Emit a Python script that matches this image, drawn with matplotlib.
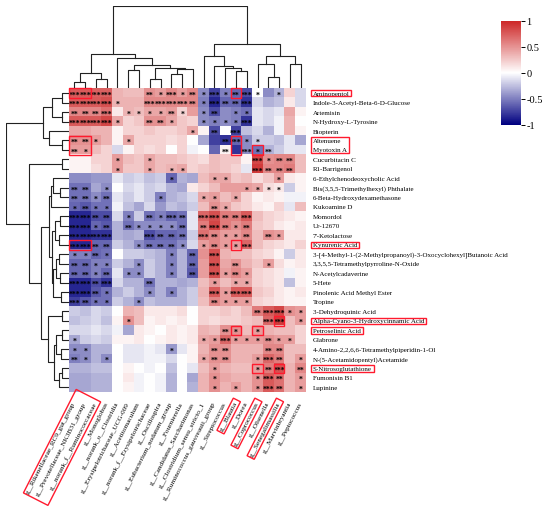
import numpy as np
import matplotlib

matplotlib.use("Agg")
import matplotlib.pyplot as plt  # noqa: E402
from matplotlib.colors import LinearSegmentedColormap  # noqa: E402
from matplotlib.patches import Rectangle  # noqa: E402
from matplotlib.transforms import IdentityTransform  # noqa: E402

plt.rcParams["font.family"] = ["Liberation Serif", "DejaVu Serif"]

metabolites = [
    "Aminopentol", "Indole-3-Acetyl-Beta-6-D-Glucose", "Artemisin", "N-Hydroxy-L-Tyrosine",
    "Biopterin", "Altenuene", "Myotoxin A", "Cucurbitacin C", "R1-Barrigenol",
    "6-Ethylchenodeoxycholic Acid", "Bis(3,5,5-Trimethylhexyl) Phthalate",
    "6-Beta-Hydroxydexamethasone", "Kukoamine D", "Momordol", "Ur-12670", "7'-Ketolactose",
    "Kynurenic Acid", "3-[4-Methyl-1-(2-Methylpropanoyl)-3-Oxocyclohexyl]Butanoic Acid",
    "3,3,5,5-Tetramethylpyrroline-N-Oxide", "N-Acetylcadaverine", "5-Hete",
    "Pinolenic Acid Methyl Ester", "Tropine", "3-Dehydroquinic Acid",
    "Alpha-Cyano-3-Hydroxycinnamic Acid", "Petroselinic Acid", "Glabrone",
    "4-Amino-2,2,6,6-Tetramethylpiperidin-1-Ol", "N-(5-Acetamidopentyl)Acetamide",
    "S-Nitrosoglutathione", "Fumonisin B1", "Lupinine",
]

genera = [
    "g__Rikenellaceae_RC9_gut_group", "g__Prevotellaceae_NK3B31_group",
    "g__norank_f__Ruminococcaceae", "g__Monoglobus", "g__norank_o__Clostridia",
    "g__Erysipelotrichaceae_UCG-009", "g__Acetitomaculum", "g__norank_f__Erysipelotrichaceae",
    "g__Oscillospira", "g__Eubacterium_nodatum_group", "g__Fournierella",
    "g__Candidatus_Saccharimonas", "g__Clostridium_sensu_stricto_1",
    "g__Ruminococcus_gauvreauii_group", "g__Streptococcus", "g__Blautia", "g__Dorea",
    "g__Coprococcus", "g__Olsenella", "g__Senegalimassilia", "g__Marvinbryantia",
    "g__Peptococcus",
]

# spearman r, rows = metabolites, cols = genera
corr = [
    [0.75, 0.75, 0.72, 0.72, 0.35, 0.3, 0.3, 0.5, 0.45, 0.55, 0.45, 0.55, -0.45, -0.75, -0.5, -0.6, -0.7, 0.0, -0.45, -0.3, 0.2, -0.15],
    [0.75, 0.75, 0.75, 0.8, 0.35, 0.35, 0.35, 0.55, 0.55, 0.55, 0.55, 0.55, -0.5, -0.85, -0.6, -0.6, -0.8, -0.15, -0.3, -0.25, 0.1, -0.15],
    [0.55, 0.55, 0.55, 0.65, 0.1, 0.35, 0.3, 0.4, 0.4, 0.45, 0.2, 0.45, -0.45, -0.7, -0.45, -0.5, -0.55, -0.1, -0.15, -0.1, 0.4, 0.05],
    [0.75, 0.75, 0.75, 0.85, 0.4, 0.2, 0.25, 0.5, 0.5, 0.4, 0.25, 0.2, -0.45, -0.5, -0.45, -0.5, -0.8, -0.1, -0.15, -0.05, 0.35, 0.0],
    [0.4, 0.4, 0.35, 0.35, 0.05, 0.2, 0.2, 0.25, 0.2, 0.2, 0.25, 0.4, 0.05, -0.7, 0.0, -0.75, -0.25, -0.15, -0.3, -0.05, 0.35, 0.05],
    [0.5, 0.5, 0.45, 0.35, 0.05, 0.4, 0.2, 0.2, 0.2, 0.15, 0.2, 0.0, -0.35, -0.75, -0.8, -0.6, -0.45, -0.2, -0.2, -0.25, -0.1, -0.35],
    [0.45, 0.45, 0.3, 0.2, -0.15, 0.05, 0.2, 0.15, 0.2, 0.0, 0.2, -0.05, 0.0, -0.6, 0.05, -0.8, -0.45, -0.55, -0.3, -0.2, -0.1, -0.1],
    [0.05, 0.05, 0.2, 0.2, 0.45, 0.3, 0.25, 0.4, 0.3, 0.3, 0.25, 0.2, 0.15, 0.3, 0.25, 0.25, 0.05, 0.85, 0.5, 0.55, 0.55, 0.3],
    [0.05, 0.05, 0.15, 0.2, 0.45, 0.25, 0.25, 0.4, 0.3, 0.35, 0.4, 0.2, 0.25, 0.3, 0.25, 0.2, -0.1, 0.9, 0.55, 0.55, 0.6, 0.3],
    [-0.45, -0.45, -0.4, -0.4, -0.1, -0.2, -0.15, -0.25, -0.2, -0.6, -0.3, -0.35, 0.3, 0.4, 0.4, 0.25, 0.3, 0.15, 0.25, 0.45, 0.1, 0.05],
    [-0.55, -0.55, -0.35, -0.45, 0.0, -0.15, -0.1, -0.2, -0.15, -0.3, -0.35, 0.1, 0.2, 0.3, 0.45, 0.45, 0.45, 0.4, 0.15, 0.1, -0.2, 0.05],
    [-0.55, -0.55, -0.45, -0.55, -0.1, -0.2, -0.1, -0.2, -0.5, -0.3, -0.25, -0.15, 0.4, 0.45, 0.3, 0.4, 0.2, 0.05, 0.1, 0.05, -0.05, -0.05],
    [-0.6, -0.65, -0.55, -0.55, -0.05, -0.25, -0.35, -0.15, -0.4, -0.25, -0.3, -0.2, 0.3, 0.5, 0.4, 0.25, 0.2, 0.1, 0.05, 0.2, -0.1, 0.3],
    [-0.85, -0.85, -0.7, -0.7, -0.15, -0.5, -0.2, -0.55, -0.5, -0.6, -0.55, -0.1, 0.7, 0.8, 0.6, 0.6, 0.75, 0.3, 0.2, 0.15, 0.1, 0.05],
    [-0.85, -0.85, -0.6, -0.65, -0.3, -0.55, -0.45, -0.45, -0.45, -0.45, -0.55, -0.1, 0.6, 0.85, 0.6, 0.5, 0.6, 0.25, 0.2, 0.1, 0.05, 0.1],
    [-0.85, -0.85, -0.8, -0.8, -0.3, -0.35, -0.3, -0.7, -0.6, -0.6, -0.55, -0.2, 0.65, 0.55, 0.45, 0.45, 0.55, 0.3, 0.5, 0.45, 0.1, 0.1],
    [-0.85, -0.85, -0.6, -0.6, -0.2, -0.3, -0.45, -0.55, -0.55, -0.55, -0.45, -0.15, 0.45, 0.55, 0.45, 0.45, 0.7, 0.3, 0.2, 0.15, 0.1, 0.2],
    [-0.5, -0.5, -0.6, -0.55, 0.0, -0.2, -0.2, -0.25, -0.3, -0.5, -0.3, -0.6, 0.5, 0.8, 0.35, 0.3, 0.3, 0.2, 0.15, 0.05, -0.2, 0.1],
    [-0.6, -0.6, -0.5, -0.5, -0.2, -0.3, -0.45, -0.2, -0.3, -0.5, -0.3, -0.6, 0.45, 0.8, 0.4, 0.5, 0.35, 0.25, 0.45, 0.15, 0.05, 0.1],
    [-0.6, -0.6, -0.5, -0.6, -0.1, -0.45, -0.45, -0.2, -0.3, -0.5, -0.3, -0.65, 0.45, 0.8, 0.45, 0.55, 0.45, 0.2, 0.15, 0.1, -0.05, 0.05],
    [-0.85, -0.85, -0.7, -0.8, -0.15, -0.3, -0.3, -0.55, -0.3, -0.3, -0.35, -0.3, 0.3, 0.45, 0.3, 0.4, 0.4, 0.2, 0.15, 0.1, -0.25, 0.05],
    [-0.85, -0.85, -0.65, -0.55, -0.3, -0.2, -0.3, -0.45, -0.3, -0.5, -0.3, -0.2, 0.35, 0.75, 0.45, 0.75, 0.75, 0.25, 0.2, 0.1, 0.05, 0.1],
    [-0.75, -0.65, -0.55, -0.55, -0.2, -0.3, -0.45, -0.25, -0.3, -0.3, -0.3, -0.2, 0.3, 0.55, 0.45, 0.45, 0.45, 0.2, 0.15, 0.1, 0.05, 0.05],
    [-0.2, -0.25, -0.15, -0.2, 0.0, 0.35, 0.3, 0.1, 0.1, 0.1, 0.15, 0.0, 0.2, 0.2, 0.25, 0.2, 0.3, 0.6, 0.75, 0.85, 0.5, 0.45],
    [-0.25, -0.2, -0.15, -0.25, 0.05, 0.5, 0.3, 0.05, 0.1, 0.05, 0.1, 0.0, 0.2, 0.15, 0.2, 0.2, 0.25, 0.3, 0.7, 0.9, 0.3, 0.45],
    [-0.15, -0.15, -0.1, -0.15, -0.05, -0.35, 0.1, 0.05, 0.0, 0.1, 0.05, 0.1, 0.35, 0.3, 0.5, 0.5, 0.3, 0.45, 0.35, 0.3, 0.3, 0.2],
    [-0.35, -0.2, -0.15, -0.2, 0.05, 0.05, 0.1, 0.0, 0.05, 0.1, 0.05, 0.1, 0.4, 0.45, 0.7, 0.45, 0.45, 0.45, 0.5, 0.45, 0.45, 0.2],
    [-0.45, -0.45, -0.3, -0.3, 0.0, -0.1, -0.1, -0.05, -0.1, -0.4, -0.1, 0.05, 0.35, 0.5, 0.5, 0.35, 0.35, 0.35, 0.55, 0.55, 0.3, 0.3],
    [-0.5, -0.45, -0.3, -0.45, 0.0, -0.1, -0.1, -0.05, -0.05, -0.15, 0.0, 0.05, 0.4, 0.5, 0.5, 0.35, 0.35, 0.45, 0.7, 0.6, 0.3, 0.45],
    [-0.3, -0.3, -0.25, -0.25, 0.0, 0.05, 0.0, -0.05, 0.0, -0.25, 0.0, -0.1, 0.3, 0.45, 0.35, 0.3, 0.3, 0.45, 0.6, 0.8, 0.35, 0.55],
    [-0.35, -0.35, -0.3, -0.3, 0.0, 0.1, -0.05, 0.0, -0.05, -0.3, 0.0, -0.35, 0.35, 0.5, 0.4, 0.35, 0.35, 0.5, 0.75, 0.65, 0.35, 0.45],
    [-0.35, -0.35, -0.3, -0.3, 0.0, 0.05, -0.05, 0.0, -0.05, -0.3, 0.0, -0.3, 0.35, 0.5, 0.35, 0.45, 0.35, 0.5, 0.75, 0.65, 0.35, 0.45],
]

# number of significance stars per cell
stars = [
    "3333000213121312310100",
    "3333100333321322300000",
    "2223011112101201100000",
    "3333100221001111300000",
    "0000000000010203000000",
    "2210010000000023110000",
    "2100000000000020312000",
    "0000100100000000031220",
    "0000100101100000032220",
    "0000000001000110000100",
    "2201000000000000111100",
    "2212000010001101000000",
    "1211000000000210000000",
    "3322010213203322300000",
    "3312021111202321200000",
    "3333000322203211202100",
    "3322001222101211300000",
    "1121000001020300000000",
    "2211001001020302001000",
    "2212011001020312100000",
    "3323000200000101100000",
    "3321000101000313300000",
    "3211001000000211100000",
    "0000000000000000023311",
    "0000010000000000003301",
    "0000000000000021010000",
    "1000000000001131112110",
    "1100000001000220002200",
    "2101000000001220013201",
    "0000000000000100012302",
    "0000000000000100013201",
    "0000000000000101013201",
]

# dendrograms: (left, right, merge height in px); new nodes numbered after the leaves
col_merges = [
    (0, 1, 6.0), (2, 3, 9.3), (22, 23, 15.3), (5, 6, 18.7), (7, 8, 9.3), (9, 10, 14.3),
    (27, 11, 19.3), (26, 28, 20.0), (25, 29, 23.7), (4, 30, 30.0), (24, 31, 34.3),
    (15, 16, 17.7), (14, 33, 20.3), (13, 34, 22.7), (12, 35, 32.0), (18, 19, 11.0),
    (17, 37, 24.3), (20, 21, 24.3), (38, 39, 32.0), (36, 40, 44.3), (32, 41, 82.0),
]
row_merges = [
    (0, 1, 6.7), (2, 3, 7.3), (32, 33, 17.7), (5, 6, 6.7), (4, 35, 20.0), (34, 36, 26.7),
    (7, 8, 6.7), (10, 11, 9.0), (9, 39, 16.0), (40, 12, 18.3), (13, 14, 9.0), (15, 16, 10.0),
    (42, 43, 14.0), (17, 18, 10.0), (19, 20, 9.0), (45, 46, 13.3), (21, 22, 8.3),
    (47, 48, 16.0), (44, 49, 17.3), (41, 50, 20.0), (23, 24, 6.7), (25, 26, 7.3),
    (27, 28, 8.3), (53, 54, 12.7), (29, 30, 6.7), (56, 31, 10.0), (55, 57, 15.0),
    (52, 58, 21.0), (51, 59, 28.3), (38, 60, 40.7), (37, 61, 64.0),
]

# red highlight boxes
cell_boxes = [  # (row_from, row_to, col_from, col_to)
    (0, 0, 0, 1), (0, 0, 15, 15), (5, 6, 0, 1), (5, 6, 15, 15), (6, 6, 17, 17),
    (16, 16, 0, 1), (16, 16, 15, 15), (24, 24, 19, 19), (25, 25, 15, 15),
    (25, 25, 17, 17), (29, 29, 17, 17), (29, 29, 19, 19),
]
row_label_boxes = [[0], [5, 6], [16], [24], [25], [29]]
col_label_boxes = [[0, 1, 2], [15], [17], [19]]

W, H = 550, 510
BOX_RED = "#ff1a2e"
fig = plt.figure(figsize=(W / 100, H / 100), dpi=100)


def px_axes(x0, y0, x1, y1):
    return fig.add_axes([x0 / W, 1 - y1 / H, (x1 - x0) / W, (y1 - y0) / H])


def tree_segments(n, merges):
    pos = {i: i + 0.5 for i in range(n)}
    hgt = {i: 0.0 for i in range(n)}
    segs = []
    for k, (a, b, h) in enumerate(merges):
        segs.append(([pos[a], pos[a], pos[b], pos[b]], [hgt[a], h, h, hgt[b]]))
        pos[n + k] = (pos[a] + pos[b]) / 2
        hgt[n + k] = h
    return segs


nr, nc = len(metabolites), len(genera)
HX0, HX1, HY0, HY1 = 69, 306, 89.3, 393

cmap = LinearSegmentedColormap.from_list("nwr", ["#000080", "#ffffff", "#cd2626"], N=256)

ax = px_axes(HX0, HY0, HX1, HY1)
im = ax.imshow(np.array(corr), cmap=cmap, vmin=-1, vmax=1, aspect="auto",
               extent=(0, nc, nr, 0), interpolation="nearest")
ax.set_xlim(0, nc)
ax.set_ylim(nr, 0)
ax.set_axis_off()

for r, row in enumerate(stars):
    for c, ch in enumerate(row):
        if ch != "0":
            ax.text(c + 0.5, r + 0.65, "*" * int(ch), ha="center", va="center",
                    fontsize=5.6, fontweight="bold", color="black")

for r0, r1, c0, c1 in cell_boxes:
    ax.add_patch(Rectangle((c0, r0), c1 - c0 + 1, r1 - r0 + 1, fill=False,
                           edgecolor=BOX_RED, lw=1.0, clip_on=False, zorder=5))

row_txt = [ax.text(nc + 0.62, r + 0.5, name, ha="left", va="center", fontsize=5.0)
           for r, name in enumerate(metabolites)]

ANG = 63
col_txt = []
for c, name in enumerate(genera):
    t = ax.annotate(name, xy=(c + 0.5, nr), xycoords="data", xytext=(0, -7),
                    textcoords="offset points", rotation=ANG, rotation_mode="anchor",
                    ha="right", va="center", fontsize=5.2)
    col_txt.append(t)

# column dendrogram
axc = px_axes(HX0, 7.3, HX1, HY0)
for xs, ys in tree_segments(nc, col_merges):
    axc.plot(xs, ys, color="#222222", lw=0.8)
axc.set_xlim(0, nc)
axc.set_ylim(0, 82.0)
axc.set_axis_off()

# row dendrogram
axr = px_axes(6, HY0, HX0, HY1)
for ys, xs in tree_segments(nr, row_merges):
    axr.plot(xs, ys, color="#222222", lw=0.8)
axr.set_xlim(64.0, 0)
axr.set_ylim(nr, 0)
axr.set_axis_off()

# colour key
cax = px_axes(501, 21.7, 521, 125.7)
cb = fig.colorbar(im, cax=cax, ticks=[-1, -0.5, 0, 0.5, 1])
cb.ax.set_yticklabels(["-1", "-0.5", "0", "0.5", "1"])
cb.outline.set_visible(False)
cb.ax.tick_params(length=3, width=0.7, labelsize=7.5, pad=1)

# boxes around labels (need text extents)
fig.canvas.draw()
rend = fig.canvas.get_renderer()
ident = IdentityTransform()
pad = 2.0
for grp in row_label_boxes:
    bbs = [row_txt[i].get_window_extent(rend) for i in grp]
    x0 = min(b.x0 for b in bbs) - pad
    x1 = max(b.x1 for b in bbs) + pad
    y0 = min(b.y0 for b in bbs) - 0.8
    y1 = max(b.y1 for b in bbs) + 0.8
    fig.add_artist(Rectangle((x0, y0), x1 - x0, y1 - y0, fill=False, edgecolor=BOX_RED,
                             lw=1.0, transform=ident))

th = np.deg2rad(ANG)
u = np.array([np.cos(th), np.sin(th)])
nv = np.array([-np.sin(th), np.cos(th)])
for grp in col_label_boxes:
    smin = tmin = np.inf
    smax = tmax = -np.inf
    a0 = None
    for i in grp:
        t = col_txt[i]
        anchor = np.array(ax.transData.transform((i + 0.5, nr))) + np.array([0, -7 * 100 / 72])
        t.set_rotation(0)
        bb = t.get_window_extent(rend)
        t.set_rotation(ANG)
        if a0 is None:
            a0 = anchor
        d = anchor - a0
        s, tt = d @ u, d @ nv
        smin, smax = min(smin, s - bb.width), max(smax, s)
        tmin, tmax = min(tmin, tt - bb.height / 2), max(tmax, tt + bb.height / 2)
    smin, smax, tmin, tmax = smin - 2, smax + 2, tmin - 1.5, tmax + 1.5
    corner = a0 + u * smin + nv * tmin
    fig.add_artist(Rectangle(tuple(corner), smax - smin, tmax - tmin, angle=ANG,
                             fill=False, edgecolor=BOX_RED, lw=1.0, transform=ident))

fig.savefig("out.png", dpi=100)
